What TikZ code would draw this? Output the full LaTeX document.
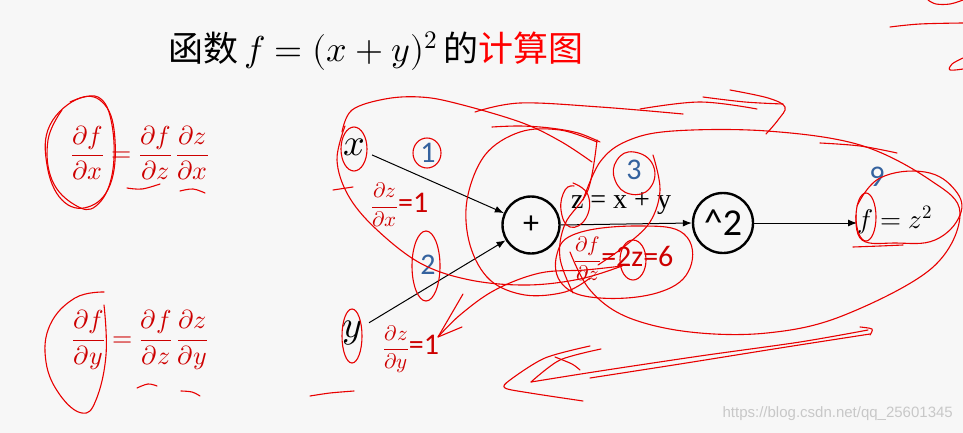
\documentclass[tikz,border=0pt]{standalone}
\usepackage{fontspec}
\usepackage{unicode-math}
\newfontfamily\cjk{Noto Sans CJK SC}
\newfontfamily\calib{Carlito}
\newfontfamily\tnr{Liberation Serif}
\newfontfamily\wmark{Liberation Sans}
\usetikzlibrary{arrows.meta}
\definecolor{bg}{RGB}{247,247,247}
\definecolor{ink}{RGB}{232,0,0}
\definecolor{fred}{RGB}{205,0,0}
\definecolor{tred}{RGB}{255,0,0}
\definecolor{nblue}{RGB}{52,98,158}
\definecolor{wm}{RGB}{200,200,200}
\begin{document}
\begin{tikzpicture}[x=1pt,y=-1pt,
  ink/.style={draw=ink, line width=1.1pt, line cap=round, line join=round},
  arr/.style={draw=black, line width=1pt, -{Latex[length=9pt,width=7pt]}},
  opnode/.style={circle, draw=black, line width=2.4pt, minimum size=57pt, inner sep=0pt},
  num/.style={text=nblue, inner sep=0pt, font=\calib\fontsize{30}{34}\selectfont},
  lbl/.style={text=fred, inner sep=0pt}]
\fill[bg] (0,0) rectangle (963,433);
\useasboundingbox (0,0) rectangle (963,433);

% title
\node[anchor=base west, inner sep=0pt] (title) at (168,62)
  {\fontsize{35}{40}\selectfont\cjk 函数\,{\fontsize{36}{40}\selectfont$f=(x+y)^2$}\,的\textcolor{tred}{计算图}};

% left formulas
\node[lbl] (fx) at (140,153) {\fontsize{26}{30}\selectfont$\dfrac{\partial f}{\partial x}=\dfrac{\partial f}{\partial z}\,\dfrac{\partial z}{\partial x}$};
\node[lbl] (fy) at (140,340) {\fontsize{26}{30}\selectfont$\dfrac{\partial f}{\partial y}=\dfrac{\partial f}{\partial z}\,\dfrac{\partial z}{\partial y}$};

% graph
\node[inner sep=7pt] (nx) at (354,147) {\fontsize{38}{40}\selectfont$x$};
\node[inner sep=7pt] (ny) at (352,333) {\fontsize{38}{40}\selectfont$y$};
\node[opnode] (plus) at (531,225) {\calib\fontsize{32}{34}\selectfont +};
\node[opnode, minimum size=60pt] (sq) at (723,223) {\calib\fontsize{38}{40}\selectfont\^{}2};
\node[anchor=west, inner sep=0pt] (fz) at (857,220) {\fontsize{27}{30}\selectfont$f=z^2$};
\node[anchor=base, inner sep=0pt] (zxy) at (621,208) {\tnr\fontsize{28}{30}\selectfont z = x + y};

\draw[arr] (nx) -- (plus);
\draw[arr] (ny) -- (plus);
\draw[arr] (plus.east) -- (sq.west);
\draw[arr] (sq.east) -- (fz.west |- sq.east);

% red labels
\node[lbl, anchor=west] (dzdx) at (371,205) {\fontsize{21}{23}\selectfont$\dfrac{\partial z}{\partial x}$\calib\fontsize{30}{32}\selectfont=1};
\node[lbl, anchor=west] (dzdy) at (383,349) {\fontsize{21}{23}\selectfont$\dfrac{\partial z}{\partial y}$\calib\fontsize{30}{32}\selectfont=1};
\node[lbl, anchor=west] (dfdz) at (574,259) {\fontsize{21}{23}\selectfont$\dfrac{\partial f}{\partial z}$\calib\fontsize{30}{32}\selectfont=2z=6};

% blue numbers
\node[num] (n1) at (428,153) {1};
\node[num] (n2) at (428,265) {2};
\node[num] (n3) at (634,170) {3};
\node[num] (n9) at (877,177) {9};

% watermark
\node[anchor=east, text=wm, inner sep=0pt] (wmk) at (953,414) {\wmark\fontsize{15}{17}\selectfont https://blog.csdn.net/qq\_25601345};

% ---- hand-drawn red annotations ----
% left circles
\draw[ink] plot[smooth cycle, tension=0.7] coordinates {(80,98) (105,105) (115,140) (110,185) (88,207) (62,200) (47,165) (50,125)};
\draw[ink] plot[smooth, tension=0.7] coordinates {(70,102) (98,97) (112,125) (112,175) (96,206) (75,205) (52,180) (48,140) (62,110)};
\draw[ink] plot[smooth, tension=0.7] coordinates {(104,292) (75,298) (50,325) (46,362) (60,395) (82,413) (96,400) (106,355) (104,305)};
\draw[ink] plot[smooth, tension=0.6] coordinates {(127,188) (142,189) (160,184)};
\draw[ink] plot[smooth, tension=0.6] coordinates {(180,191) (193,189) (205,193)};
\draw[ink] plot[smooth, tension=0.6] coordinates {(137,388) (148,384) (157,386)};
\draw[ink] plot[smooth, tension=0.6] coordinates {(181,391) (192,392) (200,396)};
\draw[ink] (333,190) -- (353,187);
\draw[ink] plot[smooth] coordinates {(310,396) (330,393) (354,391)};

% small circles in graph
\draw[ink] (354,149) ellipse[x radius=13, y radius=22];
\draw[ink] (352,336) ellipse[x radius=10, y radius=27];
\draw[ink] (427,153) ellipse[x radius=14, y radius=15];
\draw[ink] (426,266) ellipse[x radius=14, y radius=35];
\draw[ink] plot[smooth cycle, tension=0.8] coordinates {(634,152) (653,165) (650,188) (630,194) (615,180) (617,160)};
\draw[ink] plot[smooth, tension=0.8] coordinates {(573,183) (588,195) (586,218) (570,227) (561,210) (565,190) (574,186)};
\draw[ink] (633,260) ellipse[x radius=13, y radius=20];

% big loop around x
\draw[ink] plot[smooth, tension=0.6] coordinates {(342,132) (352,110) (385,99) (420,97) (455,103) (520,122) (560,141) (592,162)};
\draw[ink] plot[smooth, tension=0.6] coordinates {(345,126) (337,160) (348,195) (375,228) (420,263) (470,280) (527,285) (580,279) (622,266)};
% arrow to dz/dy
\draw[ink] plot[smooth, tension=0.6] coordinates {(622,266) (585,270) (540,273) (495,290) (460,315) (438,337)};
\draw[ink] (463,294) -- (438,337) -- (462,327);

% circle around plus
\draw[ink] plot[smooth, tension=0.6] coordinates {(597,142) (560,130) (520,132) (485,155) (467,200) (470,245) (490,280) (525,295) (565,292) (590,278)};
\draw[ink] plot[smooth, tension=0.6] coordinates {(492,127) (520,126) (550,128) (578,133) (600,142)};

% top strokes
\draw[ink] plot[smooth, tension=0.6] coordinates {(475,112) (520,103) (600,107) (683,114)};
\draw[ink] plot[smooth, tension=0.6] coordinates {(640,109) (700,102) (757,109)};
\draw[ink] plot[smooth, tension=0.6] coordinates {(730,90) (768,98) (785,107) (778,120) (766,134)};
\draw[ink] plot[smooth, tension=0.6] coordinates {(703,97) (745,102) (783,104)};

% big right ellipse
\draw[ink] plot[smooth, tension=0.6] coordinates {(583,200) (600,162) (627,141) (673,131) (767,131) (860,145) (930,180) (960,213) (932,268) (842,316) (767,333) (690,332) (627,317) (590,290) (570,252)};
\draw[ink] plot[smooth, tension=0.6] coordinates {(820,143) (860,146) (897,153)};

% loop from 3 down and around df/dz
\draw[ink] plot[smooth, tension=0.6] coordinates {(653,155) (660,190) (650,222) (625,246) (598,265)};
\draw[ink] plot[smooth, tension=0.6] coordinates {(597,140) (588,190) (565,224) (560,258) (573,293)};
\draw[ink] plot[smooth cycle, tension=0.7] coordinates {(557,254) (578,233) (640,226) (684,234) (690,268) (660,292) (600,298) (563,285)};

% f = z^2 circles
\draw[ink] plot[smooth, tension=0.7] coordinates {(857,206) (880,178) (925,172) (955,190) (960,215) (935,240) (895,243) (862,240) (856,215)};
\draw[ink] (866,217) ellipse[x radius=10, y radius=24];
\draw[ink] plot[smooth, tension=0.6] coordinates {(853,247) (880,246) (903,245)};

% long backward arrow
\draw[ink] plot[smooth, tension=0.5] coordinates {(868,330) (800,342) (700,356) (600,371) (531,382)};
\draw[ink] plot[smooth, tension=0.5] coordinates {(870,334) (780,348) (680,364) (590,378)};
\draw[ink] plot[smooth, tension=0.5] coordinates {(860,327) (872,329) (870,335)};
\draw[ink] plot[smooth, tension=0.5] coordinates {(601,349) (560,360) (531,382)};
\draw[ink] plot[smooth, tension=0.5] coordinates {(590,346) (545,358) (510,380) (505,388) (530,393) (583,401)};
\draw[ink] plot[smooth, tension=0.5] coordinates {(555,357) (572,364) (580,370)};

% top right strokes
\draw[ink] plot[smooth, tension=0.6] coordinates {(928,0) (936,4) (950,4) (963,0)};
\draw[ink] plot[smooth, tension=0.6] coordinates {(890,27) (920,24) (963,23)};
\draw[ink] plot[smooth, tension=0.6] coordinates {(963,58) (952,64) (950,70) (963,69)};
\end{tikzpicture}
\end{document}
